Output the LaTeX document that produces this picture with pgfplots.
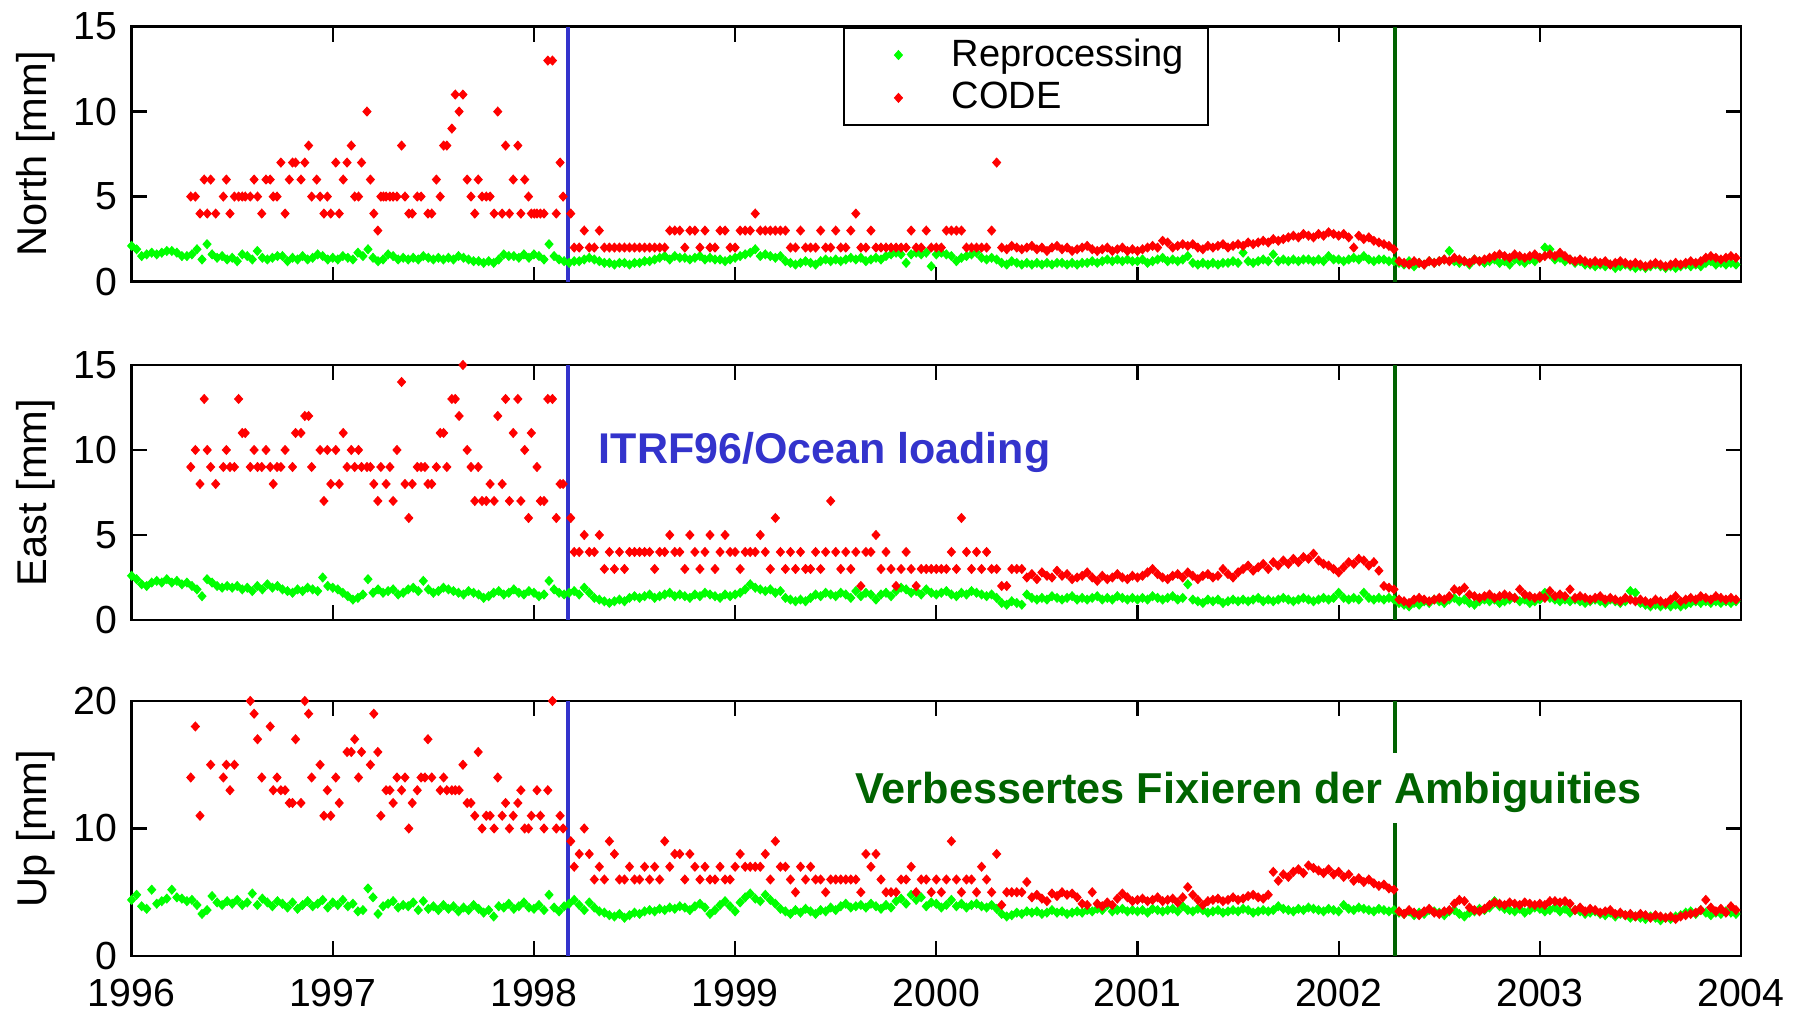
\documentclass[border=0pt]{standalone}
\usepackage{fontspec}
\setmainfont{Liberation Sans}
\usepackage{pgfplots}
\usepackage{pgfplotstable}
\pgfplotsset{compat=1.18}
\definecolor{mgreen}{rgb}{0,1,0}
\definecolor{mred}{rgb}{1,0,0}
\definecolor{lineblue}{rgb}{0.2,0.2,0.8}
\definecolor{linegreen}{rgb}{0,0.39,0}

\pgfplotstableread{
t n e u
1996.000 2.1 2.6 4.4
1996.025 1.9 2.4 4.8
1996.050 1.5 2.1 3.9
1996.075 1.6 2.0 3.7
1996.100 1.7 2.2 5.2
1996.125 1.6 2.3 4.1
1996.150 1.7 2.2 4.3
1996.175 1.8 2.4 4.5
1996.200 1.8 2.2 5.2
1996.225 1.7 2.3 4.6
1996.250 1.5 2.1 4.5
1996.275 1.5 2.2 4.3
1996.300 1.6 2.0 4.4
1996.325 1.9 1.8 4.0
1996.350 1.3 1.4 3.3
1996.375 2.2 2.4 3.6
1996.400 1.6 2.2 4.7
1996.425 1.4 2.0 4.2
1996.450 1.5 1.9 4.0
1996.475 1.3 2.0 4.3
1996.500 1.4 1.9 4.1
1996.525 1.2 2.0 4.4
1996.550 1.6 1.8 4.0
1996.575 1.5 1.9 4.2
1996.600 1.3 1.7 4.9
1996.625 1.8 2.0 4.0
1996.650 1.4 1.8 4.5
1996.675 1.3 2.1 4.2
1996.700 1.4 1.9 3.9
1996.725 1.5 2.0 4.3
1996.750 1.5 1.8 4.1
1996.775 1.2 1.7 3.8
1996.800 1.4 1.6 4.2
1996.825 1.3 1.8 3.7
1996.850 1.5 1.7 4.0
1996.875 1.3 1.9 4.3
1996.900 1.4 1.8 3.9
1996.925 1.6 1.7 4.1
1996.950 1.5 2.5 4.4
1996.975 1.3 2.0 3.8
1997.000 1.4 1.9 4.2
1997.025 1.3 1.8 4.0
1997.050 1.5 1.6 4.4
1997.075 1.4 1.4 3.9
1997.100 1.3 1.2 4.1
1997.125 1.7 1.3 3.5
1997.150 1.5 1.5 3.6
1997.175 1.9 2.4 5.3
1997.200 1.4 1.6 4.6
1997.225 1.2 1.8 3.3
1997.250 1.3 1.6 3.9
1997.275 1.6 1.7 4.1
1997.300 1.5 1.8 4.3
1997.325 1.3 1.5 3.8
1997.350 1.4 1.6 4.0
1997.375 1.3 1.8 3.9
1997.400 1.4 1.9 4.2
1997.425 1.3 1.7 3.6
1997.450 1.5 2.3 4.3
1997.475 1.4 1.8 3.7
1997.500 1.3 1.6 3.9
1997.525 1.4 1.7 3.6
1997.550 1.3 1.9 4.0
1997.575 1.4 1.8 3.7
1997.600 1.3 1.7 3.9
1997.625 1.5 1.6 3.5
1997.650 1.4 1.5 3.8
1997.675 1.3 1.7 3.6
1997.700 1.2 1.6 4.0
1997.725 1.2 1.5 3.7
1997.750 1.1 1.3 3.4
1997.775 1.2 1.4 3.6
1997.800 1.1 1.6 3.1
1997.825 1.3 1.7 3.9
1997.850 1.6 1.5 3.8
1997.875 1.5 1.6 4.1
1997.900 1.5 1.8 3.7
1997.925 1.4 1.6 3.9
1997.950 1.6 1.5 4.2
1997.975 1.4 1.7 3.8
1998.000 1.6 1.6 3.7
1998.025 1.5 1.4 4.0
1998.050 1.3 1.5 3.6
1998.075 2.2 2.3 4.8
1998.100 1.5 1.8 3.8
1998.125 1.3 1.6 3.5
1998.150 1.2 1.5 3.9
1998.175 1.1 1.6 4.1
1998.200 1.2 1.7 4.4
1998.225 1.2 1.5 4.0
1998.250 1.3 1.9 3.6
1998.275 1.4 1.6 4.2
1998.300 1.3 1.3 3.8
1998.325 1.2 1.2 3.5
1998.350 1.1 1.1 3.4
1998.375 1.1 1.0 3.2
1998.400 1.0 1.1 3.1
1998.425 1.1 1.2 3.3
1998.450 1.1 1.1 3.0
1998.475 1.0 1.3 3.2
1998.500 1.1 1.4 3.4
1998.525 1.1 1.3 3.3
1998.550 1.2 1.4 3.5
1998.575 1.2 1.5 3.6
1998.600 1.3 1.3 3.5
1998.625 1.4 1.4 3.7
1998.650 1.5 1.5 3.6
1998.675 1.3 1.6 3.8
1998.700 1.5 1.4 3.7
1998.725 1.4 1.5 3.9
1998.750 1.4 1.4 3.8
1998.775 1.3 1.3 3.6
1998.800 1.4 1.5 3.9
1998.825 1.5 1.4 4.1
1998.850 1.3 1.6 3.8
1998.875 1.4 1.5 3.3
1998.900 1.3 1.4 3.6
1998.925 1.3 1.3 4.0
1998.950 1.2 1.5 4.3
1998.975 1.3 1.4 3.9
1999.000 1.4 1.5 3.5
1999.025 1.5 1.6 4.2
1999.050 1.6 1.8 4.6
1999.075 1.7 2.1 4.9
1999.100 1.9 1.9 4.5
1999.125 1.5 1.8 4.3
1999.150 1.6 1.7 4.8
1999.175 1.5 1.8 4.4
1999.200 1.4 1.6 4.1
1999.225 1.5 1.7 3.7
1999.250 1.2 1.3 3.5
1999.275 1.1 1.2 3.3
1999.300 1.0 1.1 3.6
1999.325 1.1 1.2 3.4
1999.350 1.2 1.1 3.7
1999.375 1.1 1.3 3.5
1999.400 1.0 1.5 3.3
1999.425 1.2 1.4 3.6
1999.450 1.3 1.6 3.5
1999.475 1.2 1.5 3.8
1999.500 1.3 1.4 3.6
1999.525 1.2 1.6 3.9
1999.550 1.3 1.5 4.1
1999.575 1.4 1.3 3.8
1999.600 1.3 1.7 3.9
1999.625 1.4 1.4 4.0
1999.650 1.2 1.6 3.8
1999.675 1.3 1.5 4.1
1999.700 1.4 1.2 3.9
1999.725 1.3 1.5 3.7
1999.750 1.5 1.6 4.0
1999.775 1.6 1.4 3.8
1999.800 1.7 1.7 4.3
1999.825 1.6 1.9 4.5
1999.850 1.1 1.8 4.1
1999.875 1.6 1.6 4.8
1999.900 1.7 1.7 4.4
1999.925 1.6 1.5 4.6
1999.950 1.7 1.8 3.9
1999.975 0.9 1.6 4.2
2000.000 1.6 1.5 4.1
2000.025 1.7 1.6 3.8
2000.050 1.6 1.7 4.0
2000.075 1.5 1.5 4.4
2000.100 1.2 1.4 3.9
2000.125 1.4 1.6 4.1
2000.150 1.5 1.5 3.8
2000.175 1.6 1.7 4.0
2000.200 1.7 1.6 4.1
2000.225 1.4 1.5 3.9
2000.250 1.3 1.4 3.8
2000.275 1.4 1.5 4.0
2000.300 1.3 1.3 3.7
2000.325 1.1 1.0 3.3
2000.350 1.0 0.9 3.1
2000.375 1.2 1.1 3.2
2000.400 1.1 1.0 3.4
2000.425 1.0 0.9 3.3
2000.450 1.1 1.5 3.5
2000.475 1.0 1.3 3.4
2000.500 1.1 1.2 3.5
2000.525 1.0 1.3 3.3
2000.550 1.1 1.2 3.4
2000.575 1.0 1.4 3.6
2000.600 1.1 1.3 3.4
2000.625 1.1 1.2 3.5
2000.650 1.0 1.3 3.3
2000.675 1.1 1.4 3.4
2000.700 1.0 1.2 3.5
2000.725 1.1 1.3 3.4
2000.750 1.1 1.2 3.6
2000.775 1.2 1.3 3.5
2000.800 1.1 1.4 3.7
2000.825 1.2 1.2 3.6
2000.850 1.3 1.3 4.0
2000.875 1.2 1.2 3.5
2000.900 1.3 1.4 3.6
2000.925 1.2 1.3 3.7
2000.950 1.3 1.2 3.5
2000.975 1.2 1.3 3.6
2001.000 1.2 1.2 3.5
2001.025 1.3 1.3 3.6
2001.050 1.1 1.2 3.4
2001.075 1.2 1.4 3.7
2001.100 1.3 1.3 3.6
2001.125 1.4 1.2 3.5
2001.150 1.2 1.3 3.6
2001.175 1.3 1.4 3.7
2001.200 1.2 1.2 3.5
2001.225 1.3 1.3 3.9
2001.250 1.5 2.1 3.6
2001.275 1.1 1.2 3.5
2001.300 1.0 1.1 3.7
2001.325 1.1 1.0 3.6
2001.350 1.0 1.2 3.4
2001.375 1.1 1.1 3.5
2001.400 1.0 1.2 3.6
2001.425 1.1 1.0 3.4
2001.450 1.1 1.1 3.5
2001.475 1.2 1.2 3.6
2001.500 1.1 1.1 3.5
2001.525 1.7 1.2 3.7
2001.550 1.2 1.1 3.6
2001.575 1.1 1.2 3.4
2001.600 1.2 1.3 3.5
2001.625 1.3 1.1 3.6
2001.650 1.2 1.2 3.5
2001.675 1.6 1.1 3.6
2001.700 1.2 1.2 3.9
2001.725 1.3 1.3 3.7
2001.750 1.2 1.2 3.6
2001.775 1.3 1.1 3.5
2001.800 1.2 1.2 3.7
2001.825 1.3 1.3 3.6
2001.850 1.3 1.2 3.8
2001.875 1.2 1.1 3.7
2001.900 1.3 1.2 3.6
2001.925 1.2 1.3 3.5
2001.950 1.5 1.2 3.7
2001.975 1.3 1.3 3.6
2002.000 1.3 1.6 3.5
2002.025 1.2 1.3 4.0
2002.050 1.3 1.2 3.7
2002.075 1.4 1.3 3.6
2002.100 1.3 1.2 3.8
2002.125 1.5 1.6 3.7
2002.150 1.3 1.3 3.6
2002.175 1.2 1.2 3.5
2002.200 1.3 1.3 3.7
2002.225 1.3 1.2 3.6
2002.250 1.2 1.3 3.5
2002.275 1.2 1.2 3.6
2002.300 1.1 1.0 3.4
2002.325 1.0 0.9 3.3
2002.350 1.2 0.8 3.5
2002.375 0.9 1.0 3.2
2002.400 1.1 0.9 3.4
2002.425 1.0 1.1 3.3
2002.450 1.2 1.0 3.6
2002.475 1.1 1.2 3.5
2002.500 1.2 1.1 3.4
2002.525 1.3 1.0 3.2
2002.550 1.8 1.2 3.5
2002.575 1.2 1.3 3.6
2002.600 1.1 1.1 3.3
2002.625 1.2 1.2 3.1
2002.650 1.0 1.0 3.4
2002.675 1.3 0.9 3.5
2002.700 1.2 1.1 3.7
2002.725 1.1 1.2 3.6
2002.750 1.2 1.1 3.8
2002.775 1.3 1.2 4.3
2002.800 1.1 1.0 3.9
2002.825 1.2 1.1 3.7
2002.850 1.0 1.2 3.6
2002.875 1.3 1.3 3.5
2002.900 1.2 1.1 3.7
2002.925 1.1 1.2 3.4
2002.950 1.3 1.0 3.6
2002.975 1.2 1.1 3.8
2003.000 1.4 1.2 3.7
2003.025 2.0 1.6 3.5
2003.050 1.9 1.3 3.6
2003.075 1.3 1.2 3.8
2003.100 1.4 1.1 3.5
2003.125 1.2 1.2 3.7
2003.150 1.3 1.1 3.4
2003.175 1.1 1.2 3.6
2003.200 1.2 1.1 3.5
2003.225 1.0 1.0 3.3
2003.250 1.0 1.1 3.4
2003.275 0.9 1.2 3.5
2003.300 1.0 1.1 3.3
2003.325 0.9 1.0 3.2
2003.350 1.0 1.2 3.4
2003.375 0.8 1.1 3.1
2003.400 0.9 1.0 3.3
2003.425 1.0 1.1 3.2
2003.450 0.9 1.7 3.0
2003.475 0.8 1.6 3.1
2003.500 0.9 1.0 3.0
2003.525 0.8 0.9 2.9
2003.550 0.9 0.8 3.1
2003.575 1.0 0.9 3.0
2003.600 0.9 0.8 2.8
2003.625 0.8 0.9 3.0
2003.650 0.9 0.8 2.9
2003.675 0.8 0.9 3.1
2003.700 0.9 0.8 3.2
2003.725 1.0 0.9 3.4
2003.750 0.9 1.0 3.5
2003.775 1.0 1.1 3.3
2003.800 0.9 1.0 3.6
2003.825 1.1 1.1 3.4
2003.850 1.2 1.0 3.2
2003.875 1.0 1.1 3.4
2003.900 1.1 1.0 3.3
2003.925 1.0 1.1 3.5
2003.950 1.1 1.0 3.4
2003.975 1.0 1.1 3.3
}\greentab

\pgfplotstableread{
t n e u
1996.294 5 9 14
1996.317 5 10 18
1996.340 4 8 11
1996.361 6 13 nan
1996.376 4 10 nan
1996.393 6 9 15
1996.418 4 8 nan
1996.456 5 9 14
1996.471 6 10 15
1996.489 4 9 13
1996.511 5 9 15
1996.532 5 13 nan
1996.550 5 11 nan
1996.565 5 11 nan
1996.590 5 9 20
1996.609 6 10 19
1996.626 5 9 17
1996.647 4 9 14
1996.668 6 10 nan
1996.689 6 9 18
1996.704 5 8 13
1996.723 5 9 14
1996.742 7 9 13
1996.763 4 10 13
1996.784 6 nan 12
1996.800 7 9 12
1996.815 7 11 17
1996.842 6 11 12
1996.861 7 12 20
1996.880 8 12 19
1996.895 5 9 14
1996.920 6 nan nan
1996.937 5 10 15
1996.956 4 7 11
1996.973 5 10 13
1996.990 4 8 11
1997.015 7 10 14
1997.032 4 8 12
1997.052 6 11 nan
1997.071 7 9 16
1997.092 8 10 16
1997.109 5 9 17
1997.128 5 10 14
1997.143 7 9 16
1997.170 10 9 nan
1997.187 6 9 15
1997.204 4 8 19
1997.224 3 7 16
1997.239 5 9 11
1997.252 5 nan nan
1997.265 5 8 13
1997.284 5 9 13
1997.300 5 7 12
1997.319 5 10 14
1997.342 8 14 13
1997.359 5 8 14
1997.378 4 6 10
1997.395 4 8 12
1997.420 5 9 13
1997.439 5 9 14
1997.458 nan 9 14
1997.473 4 8 17
1997.492 4 8 14
1997.515 6 9 nan
1997.534 5 11 13
1997.551 8 11 14
1997.567 8 9 13
1997.592 9 13 13
1997.609 11 13 13
1997.628 10 12 13
1997.647 11 15 15
1997.668 6 10 12
1997.687 5 9 12
1997.706 4 7 11
1997.723 6 9 16
1997.742 5 7 10
1997.763 5 7 11
1997.782 5 8 11
1997.802 4 7 10
1997.820 10 12 14
1997.842 4 8 11
1997.859 8 13 12
1997.878 4 7 10
1997.897 6 11 11
1997.920 8 13 12
1997.935 4 7 13
1997.954 6 10 10
1997.973 5 6 10
1997.987 4 11 11
1998.002 4 nan nan
1998.015 4 9 13
1998.032 4 7 11
1998.050 4 7 10
1998.069 13 13 13
1998.092 13 13 20
1998.111 4 6 10
1998.130 7 8 11
1998.145 5 8 10
1998.183 4 6 9
1998.200 2 4 7
1998.225 2 4 8
1998.250 3 5 10
1998.275 2 4 8
1998.300 2 4 6
1998.325 3 5 7
1998.350 2 3 6
1998.375 2 4 9
1998.400 2 3 8
1998.425 2 4 6
1998.450 2 3 6
1998.475 2 4 7
1998.500 2 4 6
1998.525 2 4 6
1998.550 2 4 7
1998.575 2 4 6
1998.600 2 3 7
1998.625 2 4 6
1998.650 2 4 9
1998.675 3 5 7
1998.700 3 4 8
1998.725 3 4 8
1998.750 2 3 6
1998.775 3 5 8
1998.800 3 4 7
1998.825 2 3 6
1998.850 3 4 7
1998.875 2 5 6
1998.900 2 3 6
1998.925 3 4 7
1998.950 3 5 6
1998.975 2 4 6
1999.000 2 4 7
1999.025 3 3 8
1999.050 3 4 7
1999.075 3 4 7
1999.100 4 4 7
1999.125 3 5 7
1999.150 3 4 8
1999.175 3 3 6
1999.200 3 6 9
1999.225 3 4 7
1999.250 3 3 7
1999.275 2 4 6
1999.300 2 3 5
1999.325 3 4 7
1999.350 2 3 6
1999.375 2 3 7
1999.400 2 4 6
1999.425 3 3 6
1999.450 2 4 5
1999.475 2 7 6
1999.500 3 4 6
1999.525 2 3 6
1999.550 2 4 6
1999.575 3 3 6
1999.600 4 4 6
1999.625 2 2 5
1999.650 2 4 8
1999.675 3 4 7
1999.700 2 5 8
1999.725 2 3 6
1999.750 2 4 5
1999.775 2 3 5
1999.800 2 2 5
1999.825 2 3 6
1999.850 2 4 6
1999.875 3 3 7
1999.900 2 2 5
1999.925 2 3 6
1999.950 3 3 6
1999.975 2 3 5
2000.000 2 3 6
2000.025 2 3 5
2000.050 3 3 6
2000.075 3 4 9
2000.100 3 3 6
2000.125 3 6 5
2000.150 2 4 6
2000.175 2 3 6
2000.200 2 4 5
2000.225 2 3 7
2000.250 2 4 6
2000.275 3 3 5
2000.300 7 3 8
2000.325 2.0 2 4
2000.350 1.9 2 5
2000.375 2.1 3 5
2000.400 2.0 3 5
2000.425 1.9 3 5
2000.450 2.0 2.5 5.8
2000.475 2.1 2.7 4.6
2000.500 1.9 2.4 4.8
2000.525 2.0 2.8 4.5
2000.550 1.8 2.6 4.3
2000.575 2.0 2.5 4.9
2000.600 2.1 2.9 4.7
2000.625 1.9 2.6 5.0
2000.650 2.0 2.7 4.8
2000.675 1.8 2.4 4.9
2000.700 1.9 2.5 4.6
2000.725 2.0 2.6 4.1
2000.750 2.1 2.8 4.0
2000.775 1.9 2.5 5.0
2000.800 1.8 2.3 4.1
2000.825 1.9 2.6 3.9
2000.850 2.0 2.4 4.2
2000.875 1.8 2.5 4.0
2000.900 1.9 2.7 4.5
2000.925 2.0 2.5 4.9
2000.950 1.8 2.4 4.6
2000.975 1.9 2.6 4.3
2001.000 1.8 2.5 4.4
2001.025 1.9 2.6 4.5
2001.050 2.0 2.8 4.3
2001.075 2.1 3.0 4.4
2001.100 2.0 2.7 4.6
2001.125 2.4 2.5 4.3
2001.150 2.3 2.4 4.4
2001.175 2.0 2.6 4.5
2001.200 2.1 2.7 4.2
2001.225 2.2 2.5 4.6
2001.250 2.1 2.8 5.4
2001.275 2.2 2.6 4.8
2001.300 2.0 2.4 4.4
2001.325 1.9 2.6 4.0
2001.350 2.1 2.7 4.3
2001.375 2.0 2.5 4.4
2001.400 2.1 2.6 4.5
2001.425 2.2 3.0 4.3
2001.450 2.0 2.7 4.4
2001.475 2.1 2.5 4.6
2001.500 2.2 2.8 4.4
2001.525 2.1 3.0 4.5
2001.550 2.3 3.2 4.7
2001.575 2.2 2.9 4.8
2001.600 2.3 3.1 4.6
2001.625 2.4 3.3 4.5
2001.650 2.3 3.0 4.8
2001.675 2.5 3.4 6.6
2001.700 2.4 3.2 5.9
2001.725 2.5 3.5 6.4
2001.750 2.6 3.3 6.2
2001.775 2.7 3.6 6.6
2001.800 2.6 3.4 6.8
2001.825 2.8 3.7 6.5
2001.850 2.7 3.6 7.1
2001.875 2.6 3.9 6.9
2001.900 2.8 3.5 6.7
2001.925 2.7 3.3 6.5
2001.950 2.9 3.2 6.8
2001.975 2.8 3.0 6.4
2002.000 2.7 2.8 6.6
2002.025 2.8 3.1 6.2
2002.050 2.6 3.4 6.4
2002.075 2.0 3.3 5.9
2002.100 2.7 3.6 6.1
2002.125 2.5 3.5 5.8
2002.150 2.6 3.2 6.0
2002.175 2.4 3.4 5.7
2002.200 2.3 2.9 5.5
2002.225 2.2 2.0 5.6
2002.250 2.1 1.9 5.3
2002.275 1.9 1.8 5.2
2002.300 1.2 1.2 3.5
2002.325 1.1 1.1 3.3
2002.350 1.0 1.0 3.6
2002.375 1.2 1.2 3.4
2002.400 1.1 1.3 3.2
2002.425 1.0 1.2 3.5
2002.450 1.2 1.1 3.7
2002.475 1.1 1.2 3.4
2002.500 1.2 1.3 3.3
2002.525 1.3 1.2 3.5
2002.550 1.2 1.4 3.6
2002.575 1.4 1.8 4.1
2002.600 1.3 1.7 4.4
2002.625 1.2 1.9 4.3
2002.650 1.1 1.5 3.8
2002.675 1.3 1.4 3.6
2002.700 1.2 1.3 3.5
2002.725 1.3 1.4 3.7
2002.750 1.4 1.5 4.0
2002.775 1.5 1.3 4.2
2002.800 1.6 1.4 4.1
2002.825 1.5 1.5 4.0
2002.850 1.4 1.4 4.2
2002.875 1.6 1.3 4.1
2002.900 1.5 1.8 4.0
2002.925 1.4 1.5 4.2
2002.950 1.5 1.4 4.1
2002.975 1.6 1.3 4.0
2003.000 1.4 1.4 4.1
2003.025 1.5 1.3 4.0
2003.050 1.6 1.7 4.3
2003.075 1.5 1.4 4.3
2003.100 1.7 1.5 4.2
2003.125 1.5 1.4 4.3
2003.150 1.3 1.8 4.1
2003.175 1.2 1.3 3.6
2003.200 1.3 1.4 3.8
2003.225 1.2 1.3 3.5
2003.250 1.1 1.2 3.7
2003.275 1.2 1.3 3.6
2003.300 1.1 1.4 3.4
2003.325 1.2 1.2 3.5
2003.350 1.0 1.3 3.6
2003.375 1.1 1.2 3.3
2003.400 1.2 1.1 3.4
2003.425 1.1 1.3 3.2
2003.450 1.0 1.2 3.3
2003.475 1.1 1.1 3.1
2003.500 1.0 1.2 3.3
2003.525 0.9 1.1 3.2
2003.550 1.0 1.0 3.0
2003.575 1.1 1.2 3.2
2003.600 1.0 1.1 3.1
2003.625 0.9 1.0 3.0
2003.650 1.0 1.2 3.1
2003.675 1.1 1.4 2.9
2003.700 1.0 1.1 3.1
2003.725 1.1 1.2 3.2
2003.750 1.2 1.3 3.3
2003.775 1.1 1.2 3.4
2003.800 1.2 1.4 3.6
2003.825 1.4 1.3 4.4
2003.850 1.5 1.2 3.8
2003.875 1.4 1.4 3.5
2003.900 1.3 1.3 3.7
2003.925 1.4 1.2 3.4
2003.950 1.5 1.3 3.9
2003.975 1.4 1.2 3.6
}\redtab

\pgfplotsset{
  panel/.style={
    scale only axis, width=402.35pt, height=63.75pt,
    xmin=1996, xmax=2004, ymin=0,
    xtick={1996,1997,1998,1999,2000,2001,2002,2003,2004},
    clip=false,
    axis line style={line width=0.55pt, black},
    tick style={line width=0.55pt, black},
    major tick length=3.75pt,
    tick align=inside,
    tick label style={font=\fontsize{9.8}{11}\selectfont},
    xticklabel style={yshift=-2.2pt},
    every axis y label/.style={at={(axis description cs:-0.0527,0.5)}, rotate=90, anchor=base, font=\fontsize{10.4}{12}\selectfont},
  },
  gstyle/.style={only marks, mark=diamond*, mark size=1.1pt, color=mgreen,
    mark options={xscale=1.2, line width=0.25pt},
    legend image code/.code={\node[anchor=center, draw=none, fill=none, inner sep=0pt, minimum width=15.2pt, minimum height=6pt] at (0pt,0pt) {}; \draw[##1] plot coordinates {(0pt,0pt)};}},
  rstyle/.style={only marks, mark=diamond*, mark size=1.1pt, color=mred,
    mark options={xscale=1.2, line width=0.25pt},
    legend image code/.code={\node[anchor=center, draw=none, fill=none, inner sep=0pt, minimum width=15.2pt, minimum height=6pt] at (0pt,0pt) {}; \draw[##1] plot coordinates {(0pt,0pt)};}},
}

\begin{document}
\begin{tikzpicture}
\path[use as bounding box] (-32.9pt,-14.5pt) rectangle (415.6pt,239pt);

% North
\begin{axis}[panel, at={(0pt,168.6pt)}, ymax=15, ytick={0,5,10,15}, yticklabels={0,5,10,15},
  xticklabels={}, ylabel={North [mm]},
  legend cell align=left,
  legend style={at={(rel axis cs:0.442,1)}, anchor=north west, draw=black, line width=0.55pt, fill=white,
    inner xsep=6.0pt, inner ysep=2.6pt, row sep=2.2pt, column sep=5.7pt,
    nodes={inner sep=0pt, font=\fontsize{9.5}{11}\selectfont}}]
\addplot[gstyle] table[x=t, y=n] {\greentab};
\addlegendentry{\raisebox{0pt}[7pt][0.5pt]{Reprocessing}}
\addplot[rstyle] table[x=t, y=n] {\redtab};
\addlegendentry{\raisebox{0pt}[7pt][0.5pt]{CODE}}
\draw[lineblue, line width=0.9pt] (axis cs:1998.17,0) -- (axis cs:1998.17,15);
\draw[linegreen, line width=0.9pt] (axis cs:2002.28,0) -- (axis cs:2002.28,15);
\end{axis}

% East
\begin{axis}[panel, at={(0pt,84pt)}, ymax=15, ytick={0,5,10,15}, yticklabels={0,5,10,15},
  xticklabels={}, ylabel={East [mm]}]
\addplot[gstyle] table[x=t, y=e] {\greentab};
\addplot[rstyle] table[x=t, y=e] {\redtab};
\draw[lineblue, line width=0.9pt] (axis cs:1998.17,0) -- (axis cs:1998.17,15);
\draw[linegreen, line width=0.9pt] (axis cs:2002.28,0) -- (axis cs:2002.28,15);
\node[anchor=west, inner sep=0pt, text=lineblue, font=\bfseries\fontsize{10.75}{12}\selectfont]
  at (rel axis cs:0.2898,0.6745) {\raisebox{0pt}[7.7pt][0pt]{ITRF96/Ocean loading}};
\end{axis}

% Up
\begin{axis}[panel, at={(0pt,0pt)}, ymax=20, ytick={0,10,20}, yticklabels={0,10,20},
  xticklabels={1996,1997,1998,1999,2000,2001,2002,2003,2004}, ylabel={Up [mm]}]
\addplot[gstyle] table[x=t, y=u] {\greentab};
\addplot[rstyle] table[x=t, y=u] {\redtab};
\draw[lineblue, line width=0.9pt] (axis cs:1998.17,0) -- (axis cs:1998.17,20);
\draw[linegreen, line width=0.9pt] (axis cs:2002.28,0) -- (axis cs:2002.28,20);
\node[anchor=west, inner xsep=1pt, inner ysep=5pt, fill=white, text=linegreen, font=\bfseries\fontsize{10.82}{12}\selectfont]
  at (rel axis cs:0.4467,0.659) {\raisebox{0pt}[7.7pt][0pt]{Verbessertes Fixieren der Ambiguities}};
\end{axis}
\end{tikzpicture}
\end{document}
